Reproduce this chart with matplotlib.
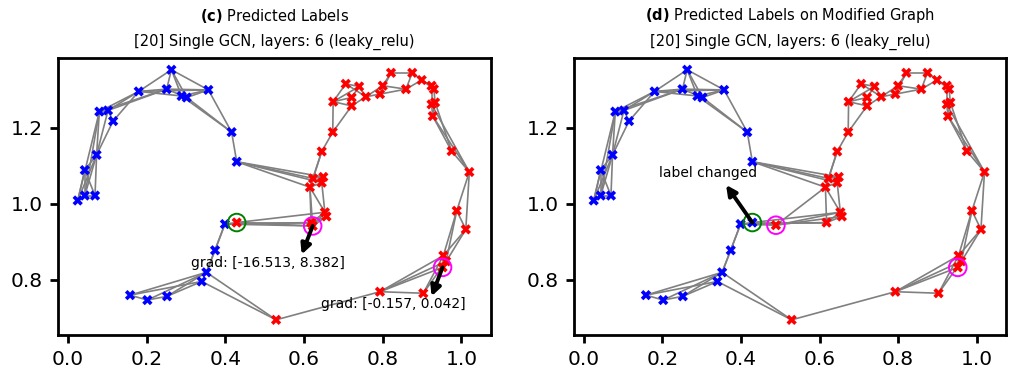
import matplotlib
matplotlib.use("Agg")
import matplotlib.pyplot as plt

# node positions (original graph)
node_x = [0.263, 0.180, 0.251, 0.289, 0.302, 0.357, 0.080, 0.102, 0.115, 0.416,
          0.429, 0.073, 0.043, 0.025, 0.043, 0.069, 0.399, 0.374, 0.352, 0.340,
          0.158, 0.202, 0.252, 0.429, 0.529, 0.821, 0.875, 0.899, 0.706, 0.740,
          0.800, 0.793, 0.859, 0.924, 0.930, 0.757, 0.721, 0.721, 0.674, 0.933,
          0.924, 0.927, 0.673, 0.645, 0.975, 1.020, 0.623, 0.649, 0.645, 0.615,
          0.653, 0.657, 0.622, 0.988, 1.011, 0.954, 0.961, 0.952, 0.793, 0.903,
          0.618]
node_y = [1.353, 1.296, 1.302, 1.284, 1.280, 1.300, 1.243, 1.246, 1.218, 1.189,
          1.111, 1.129, 1.089, 1.009, 1.022, 1.022, 0.947, 0.878, 0.820, 0.796,
          0.760, 0.747, 0.757, 0.951, 0.695, 1.345, 1.345, 1.326, 1.316, 1.309,
          1.311, 1.289, 1.302, 1.311, 1.302, 1.282, 1.280, 1.258, 1.269, 1.267,
          1.262, 1.231, 1.189, 1.138, 1.139, 1.084, 1.067, 1.071, 1.056, 1.044,
          0.978, 0.967, 0.942, 0.982, 0.933, 0.864, 0.849, 0.833, 0.769, 0.765,
          0.951]
# predicted labels: 0 = blue, 1 = red
pred_orig = [0] * 23 + [1] * 38
pred_mod = [0] * 24 + [1] * 37

# node moved in the modified graph
moved_node = 52
moved_xy = (0.489, 0.944)

edges = [(0, 1), (0, 2), (0, 3), (0, 4), (0, 5), (1, 2), (1, 3), (1, 5), (2, 5), (2, 4),
         (3, 5), (4, 5), (1, 6), (1, 7), (2, 6), (2, 7), (1, 8), (6, 7), (7, 8), (6, 11),
         (8, 11), (7, 11), (5, 9), (3, 9), (4, 9), (9, 10), (10, 46), (10, 47), (10, 48),
         (10, 49), (11, 12), (11, 13), (11, 14), (11, 15), (12, 13), (12, 15), (6, 14),
         (6, 13), (12, 14), (14, 15), (16, 23), (16, 52), (23, 52), (23, 60), (16, 60),
         (23, 50), (16, 17), (16, 18), (17, 18), (18, 20), (19, 20), (18, 21), (19, 22),
         (20, 21), (21, 22), (18, 22), (18, 24), (19, 24), (24, 58), (58, 59), (58, 55),
         (58, 56), (58, 57), (59, 55), (59, 56), (57, 55), (56, 53), (55, 53), (55, 54),
         (57, 54), (53, 54), (53, 45), (54, 45), (45, 44), (45, 41), (45, 40), (44, 41),
         (44, 39), (41, 39), (41, 40), (39, 40), (40, 33), (39, 34), (33, 34), (33, 27),
         (34, 27), (27, 26), (26, 25), (25, 30), (25, 31), (26, 32), (27, 32), (32, 30),
         (32, 31), (30, 35), (31, 35), (35, 28), (35, 29), (28, 29), (28, 38), (29, 38),
         (38, 36), (36, 29), (37, 35), (37, 38), (38, 42), (37, 42), (42, 43), (43, 49),
         (43, 46), (46, 47), (47, 48), (49, 48), (49, 52), (49, 50), (52, 50), (52, 51),
         (50, 51), (60, 50), (60, 51), (48, 50), (49, 60)]

titles = [r"$\bf{(c)}$ Predicted Labels" + "\n[20] Single GCN, layers: 6 (leaky_relu)",
          r"$\bf{(d)}$ Predicted Labels on Modified Graph" + "\n[20] Single GCN, layers: 6 (leaky_relu)"]

# annotations: (node, arrow head, text, text position)
notes_orig = [(52, (0.594, 0.867), "grad: [-16.513, 8.382]", (0.508, 0.845)),
              (57, (0.924, 0.757), "grad: [-0.157, 0.042]", (0.828, 0.736))]
notes_mod = [(23, (0.362, 1.050), "label changed", (0.317, 1.081))]


def draw_graph(ax, xs, ys, labels, green, magenta, notes, title):
    for a, b in edges:
        ax.plot([xs[a], xs[b]], [ys[a], ys[b]], color='gray', lw=1.2, zorder=1)
    cols = ['blue' if l == 0 else 'red' for l in labels]
    ax.scatter(xs, ys, c=cols, marker='X', s=55, zorder=3, linewidths=0)
    ax.scatter([xs[i] for i in green], [ys[i] for i in green], s=160,
               facecolors='none', edgecolors='green', lw=1.4, zorder=4)
    ax.scatter([xs[i] for i in magenta], [ys[i] for i in magenta], s=160,
               facecolors='none', edgecolors='magenta', lw=1.4, zorder=4)
    for n, head, txt, tpos in notes:
        ax.annotate('', xy=head, xytext=(xs[n], ys[n]),
                    arrowprops=dict(arrowstyle='-|>', color='black', lw=2.8,
                                    mutation_scale=15, shrinkA=0, shrinkB=0), zorder=5)
        ax.text(tpos[0], tpos[1], txt, fontsize=10, ha='center', va='center', zorder=6)
    ax.set_title(title, fontsize=10.5, linespacing=1.8, pad=8.5)
    for s in ax.spines.values():
        s.set_linewidth(2)
    ax.tick_params(labelsize=14.5, width=2, length=6, pad=5)
    ax.set_yticks([0.8, 1.0, 1.2])
    ax.set_xticks([0.0, 0.2, 0.4, 0.6, 0.8, 1.0])


fig = plt.figure(figsize=(10.18, 3.79), dpi=100)
ax1 = fig.add_axes([0.057, 0.116, 0.4253, 0.731])
ax2 = fig.add_axes([0.5639, 0.116, 0.4244, 0.731])

draw_graph(ax1, node_x, node_y, pred_orig, [23], [52, 57], notes_orig, titles[0])

mod_x = list(node_x)
mod_y = list(node_y)
mod_x[moved_node], mod_y[moved_node] = moved_xy
draw_graph(ax2, mod_x, mod_y, pred_mod, [23], [52, 57], notes_mod, titles[1])

for ax in (ax1, ax2):
    ax.set_xlim(-0.025, 1.075)
    ax.set_ylim(0.655, 1.384)

fig.savefig("out.png", dpi=100)
